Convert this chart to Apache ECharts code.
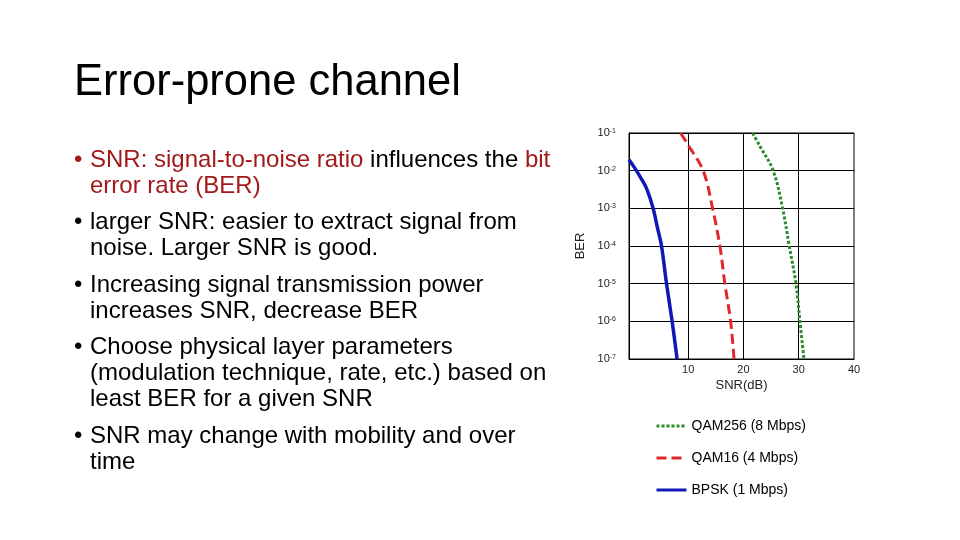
<!DOCTYPE html>
<html>
<head>
<meta charset="utf-8">
<script src="https://cdn.jsdelivr.net/npm/echarts@6/dist/echarts.min.js"></script>
<style>
  html, body { margin: 0; padding: 0; background: #fff; }
  #wrap { position: relative; width: 960px; height: 540px; overflow: hidden; }
  #chart { position: absolute; left: 0; top: 0; width: 960px; height: 540px; }
  .t { position: absolute; font-family: "Liberation Sans", Arial, sans-serif; color: #000; white-space: nowrap; pointer-events: none; }
  .title { font-size: 43.5px; line-height: 44px; }
  .ln { font-size: 24px; line-height: 24px; }
  .red { color: #a3191b; }
</style>
</head>
<body>
<div id="wrap">
  <div id="chart"></div>
</div>
<script>
// ---- data ----
const seriesNames = ['QAM256 (8 Mbps)', 'QAM16 (4 Mbps)', 'BPSK (1 Mbps)'];

const snrQAM256 = [21.66, 22.98, 25.39, 27.09, 28.29, 29.5, 30.22, 30.95];
const berQAM256 = [0.1, 0.0447, 0.01, 0.001, 1e-4, 1e-5, 1e-6, 1e-7];

const snrQAM16 = [8.62, 10.0, 12.72, 14.42, 15.74, 16.64, 17.68, 18.3];
const berQAM16 = [0.1, 0.048, 0.01, 0.001, 1e-4, 1e-5, 1e-6, 1e-7];

const snrBPSK = [-0.7, 0.35, 1.56, 2.58, 3.66, 4.39, 5.18, 6.09, 7.1, 8.0];
const berBPSK = [0.0195, 0.0117, 0.006, 0.0031, 0.001, 0.00033, 1e-4, 1e-5, 1e-6, 1e-7];

const xTickLabels = [10, 20, 30, 40];
const xGridValues = [10, 20, 30];
const berMin = 1e-7, berMax = 1e-1;

const titleText = 'Error-prone channel';
// bullet lines: [isBulletStart, html]
const bulletLines = [
  [true,  '<span class="red">SNR: signal-to-noise ratio</span> influences the <span class="red">bit</span>'],
  [false, '<span class="red">error rate (BER)</span>'],
  [true,  'larger SNR: easier to extract signal from'],
  [false, 'noise. Larger SNR is good.'],
  [true,  'Increasing signal transmission power'],
  [false, 'increases SNR, decrease BER'],
  [true,  'Choose physical layer parameters'],
  [false, '(modulation technique, rate, etc.) based on'],
  [false, 'least BER for a given SNR'],
  [true,  'SNR may change with mobility and over'],
  [false, 'time']
];
const lineBaselines = [167, 193, 229.5, 255.5, 292, 318, 354.5, 380.5, 406.5, 443, 469];

// ---- text (HTML) ----
const wrap = document.getElementById('wrap');
const tdiv = document.createElement('div');
tdiv.className = 't title';
tdiv.style.left = '74px';
tdiv.style.top = (95 - 37.2) + 'px';
tdiv.textContent = titleText;
wrap.appendChild(tdiv);

bulletLines.forEach(function (l, i) {
  const top = lineBaselines[i] - 20.3;
  if (l[0]) {
    const b = document.createElement('div');
    b.className = 't ln' + (i === 0 ? ' red' : '');
    b.style.left = '74px';
    b.style.top = top + 'px';
    b.textContent = '•';
    wrap.appendChild(b);
  }
  const d = document.createElement('div');
  d.className = 't ln';
  d.style.left = '90px';
  d.style.top = top + 'px';
  d.innerHTML = l[1];
  wrap.appendChild(d);
});

// ---- chart ----
function zip(xs, ys) { return xs.map(function (x, i) { return [x, ys[i]]; }); }

const chart = echarts.init(document.getElementById('chart'), null, { renderer: 'canvas' });
const font = '"Liberation Sans", Arial, sans-serif';

chart.setOption({
  animation: false,
  backgroundColor: '#fff',
  textStyle: { fontFamily: font },
  grid: { left: 629, right: 106, top: 133, bottom: 181, show: true, borderColor: '#000', borderWidth: 1, backgroundColor: 'transparent' },
  legend: {
    orient: 'vertical',
    left: 650,
    top: 414,
    itemWidth: 30,
    itemHeight: 14,
    itemGap: 18,
    itemStyle: { opacity: 0 },
    lineStyle: { width: 3 },
    textStyle: { fontSize: 14, color: '#000', fontFamily: font },
    data: seriesNames
  },
  xAxis: {
    type: 'value',
    min: -0.7,
    max: 40,
    name: 'SNR(dB)',
    nameLocation: 'middle',
    nameGap: 20,
    nameTextStyle: { fontSize: 13, color: '#222', fontFamily: font },
    axisLine: { show: true, onZero: false, lineStyle: { color: '#000', width: 1 } },
    axisTick: { show: false, customValues: xTickLabels },
    axisLabel: { customValues: xTickLabels, fontSize: 11, color: '#222', margin: 5, fontFamily: font },
    splitLine: { show: false }
  },
  yAxis: {
    type: 'log',
    logBase: 10,
    min: berMin,
    max: berMax,
    interval: 1,
    name: 'BER',
    nameLocation: 'middle',
    nameRotate: 90,
    nameGap: 42,
    nameTextStyle: { fontSize: 13, color: '#222', fontFamily: font },
    axisLine: { show: true, onZero: false, lineStyle: { color: '#000', width: 1 } },
    axisTick: { show: false },
    axisLabel: {
      margin: 13,
      formatter: function (v) {
        const e = Math.round(Math.log10(v));
        return '{a|10}{b|' + e + '}';
      },
      rich: {
        a: { fontSize: 11, color: '#222', fontFamily: font },
        b: { fontSize: 7, color: '#222', fontFamily: font, verticalAlign: 'top', lineHeight: 7 }
      }
    },
    splitLine: { show: true, lineStyle: { color: '#000', width: 1 } }
  },
  series: [
    {
      name: seriesNames[0], type: 'line', smooth: 0.35, symbol: 'none',
      data: zip(snrQAM256, berQAM256),
      lineStyle: { color: '#2b8c2b', width: 3, type: [3, 2] },
      itemStyle: { color: '#2b8c2b' },
      markLine: {
        silent: true,
        symbol: 'none',
        z: 1,
        label: { show: false },
        lineStyle: { color: '#000', width: 1, type: 'solid' },
        data: xGridValues.map(function (v) { return { xAxis: v }; })
      }
    },
    {
      name: seriesNames[1], type: 'line', smooth: 0.35, symbol: 'none',
      data: zip(snrQAM16, berQAM16),
      lineStyle: { color: '#e3262b', width: 3, type: [10, 5] },
      itemStyle: { color: '#e3262b' }
    },
    {
      name: seriesNames[2], type: 'line', smooth: 0.35, symbol: 'none',
      data: zip(snrBPSK, berBPSK),
      lineStyle: { color: '#1018b8', width: 3.5, type: 'solid' },
      itemStyle: { color: '#1018b8' }
    }
  ]
});
</script>
</body>
</html>
